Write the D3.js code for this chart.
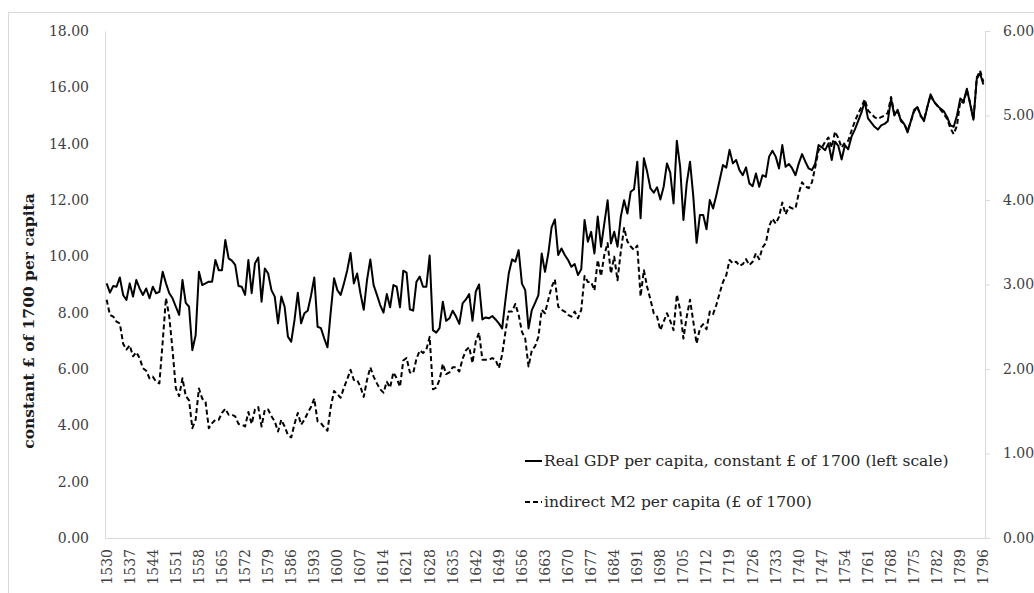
<!DOCTYPE html>
<html lang="en">
<head>
    <meta charset="UTF-8">
    <title>GDP and M2 per capita</title>
    <script src="https://d3js.org/d3.v7.min.js"></script>
    <style>
        body {
            margin: 0;
            background: white;
        }
        svg {
            display: block;
            font-family: "DejaVu Serif", "Liberation Serif", serif;
        }
    </style>
</head>
<body>
    <svg></svg>
    <script>
        // Years on the category axis
        var years = d3.range(1530, 1797);

        // Real GDP per capita, constant £ of 1700 (left scale)
        var gdp = [
            9.04, 8.71, 8.95, 8.92, 9.25, 8.63, 8.45, 9.04, 8.57, 9.16,   // 1530s
            8.86, 8.63, 8.86, 8.51, 8.92, 8.69, 8.74, 9.45, 9.04, 8.69,   // 1540s
            8.51, 8.21, 7.92, 9.16, 8.35, 8.21, 6.67, 7.20, 9.45, 8.98,   // 1550s
            9.04, 9.10, 9.10, 9.87, 9.51, 9.51, 10.58, 9.93, 9.85, 9.70,  // 1560s
            8.95, 8.92, 8.63, 9.87, 8.69, 9.75, 9.96, 8.39, 9.57, 9.39,   // 1570s
            8.80, 8.57, 7.62, 8.57, 8.21, 7.15, 6.97, 7.74, 8.71, 7.62,   // 1580s
            7.98, 8.07, 8.60, 9.25, 7.50, 7.45, 7.09, 6.77, 8.04, 9.22,   // 1590s
            8.80, 8.63, 9.04, 9.51, 10.12, 9.04, 9.39, 8.69, 8.10, 9.16,  // 1600s
            9.89, 8.98, 8.63, 8.27, 8.00, 8.66, 8.19, 8.98, 8.92, 8.19,   // 1610s
            9.49, 9.42, 8.12, 8.07, 9.10, 9.28, 8.92, 8.92, 10.03, 7.38,  // 1620s
            7.29, 7.45, 8.39, 7.71, 7.80, 8.07, 7.86, 7.60, 8.33, 8.47,   // 1630s
            8.66, 7.71, 8.75, 9.00, 7.76, 7.83, 7.80, 7.88, 7.76, 7.62,   // 1640s
            7.44, 8.45, 9.39, 9.89, 9.81, 10.22, 9.03, 8.80, 7.44, 8.09,  // 1650s
            8.35, 8.62, 10.10, 9.45, 10.10, 11.03, 11.31, 10.05, 10.28, 10.05, // 1660s
            9.87, 9.63, 9.73, 9.34, 9.54, 11.29, 10.52, 10.87, 10.10, 11.41,  // 1670s
            10.34, 11.17, 11.99, 10.46, 10.87, 10.34, 11.41, 11.99, 11.52, 12.29, // 1680s
            12.38, 13.36, 11.35, 13.48, 13.00, 12.41, 12.26, 12.45, 12.02, 12.47, // 1690s
            13.30, 12.97, 11.88, 14.10, 13.18, 11.29, 12.59, 13.36, 12.12, 10.48, // 1700s
            11.47, 11.47, 10.96, 12.00, 11.70, 12.18, 12.71, 13.24, 13.15, 13.78, // 1710s
            13.30, 13.42, 13.06, 12.88, 13.16, 12.59, 12.49, 12.94, 12.47, 12.88, // 1720s
            12.82, 13.54, 13.75, 13.54, 13.12, 13.95, 13.18, 13.28, 13.12, 12.88, // 1730s
            13.30, 13.63, 13.36, 13.12, 13.06, 13.30, 13.95, 13.87, 13.77, 14.01, // 1740s
            13.42, 14.07, 13.92, 13.44, 13.95, 13.80, 14.25, 14.50, 14.80, 15.10, // 1750s
            15.50, 14.90, 14.75, 14.60, 14.50, 14.65, 14.70, 14.80, 15.60, 15.00, // 1760s
            15.20, 14.80, 14.70, 14.40, 14.80, 15.20, 15.30, 15.00, 14.80, 15.30, // 1770s
            15.75, 15.50, 15.35, 15.25, 15.15, 14.95, 14.65, 14.60, 15.00, 15.60, // 1780s
            15.50, 15.95, 15.40, 14.85, 16.30, 16.50, 16.10                       // 1790s
        ];

        // indirect M2 per capita, £ of 1700 (right scale)
        var m2 = [
            2.82, 2.64, 2.62, 2.56, 2.54, 2.30, 2.23, 2.28, 2.15, 2.20,   // 1530s
            2.13, 2.01, 1.98, 1.89, 1.91, 1.85, 1.83, 2.32, 2.84, 2.62,   // 1540s
            2.22, 1.77, 1.68, 1.89, 1.68, 1.63, 1.30, 1.40, 1.77, 1.65,   // 1550s
            1.61, 1.30, 1.36, 1.40, 1.40, 1.48, 1.53, 1.46, 1.46, 1.44,   // 1560s
            1.35, 1.34, 1.32, 1.49, 1.35, 1.52, 1.55, 1.32, 1.52, 1.52,   // 1570s
            1.44, 1.38, 1.26, 1.40, 1.32, 1.22, 1.19, 1.35, 1.48, 1.34,   // 1580s
            1.40, 1.48, 1.55, 1.65, 1.38, 1.36, 1.31, 1.27, 1.55, 1.74,   // 1590s
            1.70, 1.66, 1.78, 1.88, 1.99, 1.87, 1.87, 1.79, 1.67, 1.87,   // 1600s
            2.02, 1.91, 1.83, 1.76, 1.72, 1.85, 1.78, 1.96, 1.89, 1.79,   // 1610s
            2.10, 2.13, 1.96, 1.95, 2.12, 2.22, 2.19, 2.23, 2.38, 1.76,   // 1620s
            1.78, 1.87, 2.06, 1.94, 1.96, 2.02, 2.02, 1.97, 2.12, 2.22,   // 1630s
            2.26, 2.07, 2.33, 2.43, 2.11, 2.11, 2.11, 2.13, 2.11, 2.01,   // 1640s
            2.17, 2.44, 2.68, 2.68, 2.77, 2.64, 2.44, 2.36, 2.03, 2.22,   // 1650s
            2.27, 2.38, 2.70, 2.66, 2.82, 2.97, 3.06, 2.74, 2.70, 2.68,   // 1660s
            2.64, 2.62, 2.68, 2.60, 2.70, 3.10, 3.03, 3.03, 2.93, 3.29,   // 1670s
            3.10, 3.35, 3.49, 3.13, 3.33, 3.05, 3.39, 3.67, 3.51, 3.45,   // 1680s
            3.41, 3.46, 2.86, 3.17, 2.97, 2.82, 2.66, 2.62, 2.46, 2.56,   // 1690s
            2.66, 2.57, 2.46, 2.88, 2.70, 2.36, 2.62, 2.82, 2.56, 2.30,   // 1700s
            2.48, 2.53, 2.47, 2.68, 2.65, 2.76, 2.90, 3.03, 3.11, 3.29,   // 1710s
            3.25, 3.27, 3.22, 3.24, 3.30, 3.23, 3.27, 3.37, 3.30, 3.44,   // 1720s
            3.49, 3.69, 3.78, 3.72, 3.80, 3.97, 3.83, 3.92, 3.90, 3.90,   // 1730s
            4.08, 4.21, 4.16, 4.14, 4.21, 4.39, 4.59, 4.62, 4.69, 4.74,   // 1740s
            4.62, 4.81, 4.73, 4.62, 4.68, 4.70, 4.82, 4.93, 5.02, 5.10,   // 1750s
            5.19, 5.06, 5.02, 4.98, 4.96, 4.98, 5.00, 5.03, 5.22, 5.02,   // 1760s
            5.05, 4.95, 4.90, 4.82, 4.93, 5.05, 5.10, 4.99, 4.95, 5.10,   // 1770s
            5.24, 5.16, 5.12, 5.07, 5.02, 4.96, 4.85, 4.78, 4.88, 5.17,   // 1780s
            5.15, 5.30, 5.15, 4.95, 5.45, 5.53, 5.40                      // 1790s
        ];

        // Tick values
        var leftTicks = d3.range(0, 19, 2);
        var rightTicks = d3.range(0, 7, 1);
        var yearTicks = years.filter(function(d, i) { return i % 7 === 0; });

        var width = 1034, height = 593;
        var svg = d3.select("svg").attr("width", width).attr("height", height);

        // Chart area border
        svg.append("rect")
            .attr("x", 8.5).attr("y", 12.5)
            .attr("width", 1040).attr("height", 600)
            .attr("fill", "white")
            .attr("stroke", "#d9d9d9");

        // Plot area edges
        var plotL = 105, plotR = 985, plotT = 31, plotB = 538;

        var x = d3.scaleBand().domain(years).range([plotL, plotR]);
        var yL = d3.scaleLinear().domain([0, 18]).range([plotB, plotT]);
        var yR = d3.scaleLinear().domain([0, 6]).range([plotB, plotT]);
        var bw = x.bandwidth();

        // Left axis
        var gl = svg.append("g")
            .attr("transform", "translate(" + plotL + ",0)")
            .call(d3.axisLeft(yL).tickValues(leftTicks).tickFormat(d3.format(".2f"))
                .tickSize(0).tickPadding(16));
        gl.select(".domain").attr("stroke", "#d9d9d9");
        gl.selectAll("text").attr("font-size", 14).attr("fill", "#404040")
            .attr("font-family", "DejaVu Serif");

        // Right axis
        var gr = svg.append("g")
            .attr("transform", "translate(" + plotR + ",0)")
            .call(d3.axisRight(yR).tickValues(rightTicks).tickFormat(d3.format(".2f"))
                .tickSize(5).tickSizeOuter(0).tickPadding(13));
        gr.select(".domain").attr("stroke", "#d9d9d9");
        gr.selectAll(".tick line").attr("stroke", "#d9d9d9");
        gr.selectAll("text").attr("font-size", 14).attr("fill", "#404040")
            .attr("font-family", "DejaVu Serif");

        // Bottom axis
        var gb = svg.append("g")
            .attr("transform", "translate(0," + plotB + ")")
            .call(d3.axisBottom(x).tickValues(yearTicks).tickSize(0).tickSizeOuter(0));
        gb.select(".domain").attr("stroke", "#d9d9d9");
        gb.selectAll("text")
            .attr("font-size", 14).attr("fill", "#404040")
            .attr("font-family", "DejaVu Serif")
            .attr("text-anchor", "end")
            .attr("x", 0).attr("y", 0).attr("dy", "0.35em")
            .attr("transform", "translate(0,11) rotate(-90)");

        // Y axis title
        svg.append("text")
            .attr("transform", "translate(34,321) rotate(-90)")
            .attr("text-anchor", "middle")
            .attr("font-size", 15.5)
            .attr("font-weight", "bold")
            .attr("fill", "#1a1a1a")
            .text("constant £ of 1700 per capita");

        // Lines
        var gdpLine = d3.line()
            .x(function(d, i) { return x(years[i]) + bw / 2; })
            .y(function(d) { return yL(d); });
        var m2Line = d3.line()
            .x(function(d, i) { return x(years[i]) + bw / 2; })
            .y(function(d) { return yR(d); });

        svg.append("path")
            .datum(m2)
            .attr("d", m2Line)
            .attr("fill", "none")
            .attr("stroke", "#000")
            .attr("stroke-width", 2)
            .attr("stroke-dasharray", "5,3")
            .attr("stroke-linejoin", "round");

        svg.append("path")
            .datum(gdp)
            .attr("d", gdpLine)
            .attr("fill", "none")
            .attr("stroke", "#000")
            .attr("stroke-width", 2)
            .attr("stroke-linejoin", "round");

        // Legend
        var legend = [
            {label: "Real GDP per capita, constant £ of 1700 (left scale)", dash: null, y: 461},
            {label: "indirect M2 per capita (£ of 1700)", dash: "5,3", y: 502}
        ];
        var lg = svg.append("g").selectAll("g").data(legend).enter().append("g");
        lg.append("line")
            .attr("x1", 525).attr("x2", 542)
            .attr("y1", function(d) { return d.y; }).attr("y2", function(d) { return d.y; })
            .attr("stroke", "#000").attr("stroke-width", 2)
            .attr("stroke-dasharray", function(d) { return d.dash; });
        lg.append("text")
            .attr("x", 544)
            .attr("y", function(d) { return d.y; })
            .attr("dy", "0.35em")
            .attr("font-size", 15.5)
            .attr("fill", "#262626")
            .text(function(d) { return d.label; });
    </script>
</body>
</html>
